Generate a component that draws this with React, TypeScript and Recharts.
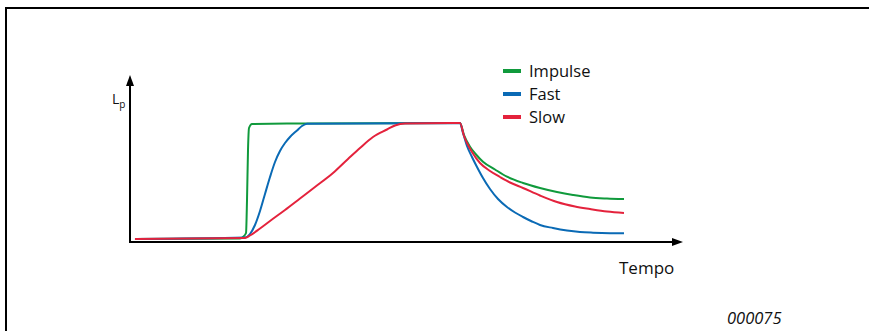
import React from 'react';
import { LineChart, Line, XAxis, YAxis, ReferenceLine, Legend } from 'recharts';

// time (0..100) vs level (0..100)
const impulseTime = [0.9, 19.89, 20.43, 20.98, 21.16, 21.34, 21.52, 22.06, 31.65, 59.67, 60.40, 61.48, 62.57, 63.83, 66.00, 68.17, 71.07, 74.14, 77.21, 80.11, 83.18, 86.26, 89.33];
const impulseLevel = [1.8, 2.10, 2.99, 5.39, 25.15, 55.09, 68.26, 70.66, 70.96, 71.26, 64.07, 57.07, 52.40, 48.08, 43.41, 39.10, 35.33, 32.34, 29.94, 28.14, 26.65, 26.05, 25.75];

const fastTime = [0.9, 20.80, 21.70, 22.60, 23.51, 24.41, 25.32, 26.22, 27.12, 28.03, 28.93, 30.20, 31.10, 32.01, 59.67, 60.22, 60.94, 61.84, 62.75, 63.83, 65.10, 66.55, 68.17, 69.62, 71.07, 72.69, 74.14, 76.49, 79.02, 81.37, 83.73, 86.80, 89.33];
const fastLevel = [1.8, 2.69, 4.79, 10.18, 18.56, 28.74, 38.92, 47.90, 54.49, 59.28, 62.87, 66.77, 69.46, 70.84, 71.26, 65.27, 57.49, 50.90, 44.91, 38.32, 31.74, 25.75, 20.96, 17.66, 14.97, 12.28, 10.18, 8.38, 6.89, 5.99, 5.57, 5.27, 5.21];

const slowTime = [0.9, 20.80, 21.70, 23.51, 25.32, 28.03, 30.74, 33.45, 36.71, 39.42, 41.59, 43.94, 46.47, 47.92, 49.73, 59.67, 60.40, 60.94, 61.84, 63.29, 65.10, 66.91, 68.72, 71.07, 74.14, 77.21, 80.47, 83.18, 86.26, 89.33];
const slowLevel = [1.8, 2.40, 3.89, 8.08, 12.57, 19.16, 26.05, 32.93, 41.32, 49.70, 56.29, 62.87, 67.37, 69.76, 70.96, 71.26, 63.47, 59.28, 53.89, 47.31, 42.51, 38.92, 35.63, 32.34, 27.84, 23.95, 21.26, 19.76, 18.26, 17.37];

const seriesNames = ['Impulse', 'Fast', 'Slow'];
const seriesColors = ['#109a3c', '#0a6ab5', '#e4223c'];
const yAxisLabel = 'L';
const yAxisSub = 'p';
const xAxisLabel = 'Tempo';
const figureCode = '000075';

const toPoints = (t: number[], v: number[]) => t.map((x, i) => ({ t: x, v: v[i] }));
const impulseData = toPoints(impulseTime, impulseLevel);
const fastData = toPoints(fastTime, fastLevel);
const slowData = toPoints(slowTime, slowLevel);

const FONT = '"Open Sans", "Noto Sans", sans-serif';

const ArrowX = (p: any) => {
  const { x1, y1, x2, y2 } = p;
  return (
    <g>
      <line x1={x1 - 1} y1={y1} x2={x2 - 8} y2={y2} stroke="#000" strokeWidth={2} />
      <polygon points={`${x2},${y2} ${x2 - 11},${y2 - 4} ${x2 - 11},${y2 + 4}`} fill="#000" />
    </g>
  );
};

const ArrowY = (p: any) => {
  const { x1, y1, x2, y2 } = p;
  const top = Math.min(y1, y2);
  const bot = Math.max(y1, y2);
  return (
    <g>
      <line x1={x1} y1={bot + 1} x2={x2} y2={top + 8} stroke="#000" strokeWidth={2} />
      <polygon points={`${x1},${top} ${x1 - 4},${top + 11} ${x1 + 4},${top + 11}`} fill="#000" />
    </g>
  );
};

const LegendContent = () => (
  <div style={{ fontFamily: FONT, fontSize: 16.5, color: '#111' }}>
    {seriesNames.map((n, i) => (
      <div key={n} style={{ display: 'flex', alignItems: 'center', height: 23 }}>
        <span style={{ display: 'inline-block', width: 18, height: 4, background: seriesColors[i], marginRight: 8 }} />
        <span>{n}</span>
      </div>
    ))}
  </div>
);

export default function App() {
  return (
    <div style={{ position: 'absolute', left: 0, top: 0, width: 869, height: 331, background: '#fff' }}>
      <div
        style={{
          position: 'absolute',
          left: 5,
          top: 6.5,
          width: 864,
          height: 325,
          borderTop: '2px solid #000',
          borderLeft: '2px solid #000',
          boxSizing: 'border-box',
        }}
      />
      <div style={{ position: 'absolute', left: 0, top: 0 }}>
        <LineChart width={869} height={331} margin={{ top: 75, right: 186, bottom: 89, left: 130 }}>
          <XAxis type="number" dataKey="t" domain={[0, 100]} hide allowDataOverflow />
          <YAxis type="number" dataKey="v" domain={[0, 100]} hide allowDataOverflow />
          <ReferenceLine segment={[{ x: 0, y: 0 }, { x: 100, y: 0 }]} shape={ArrowX} ifOverflow="visible" />
          <ReferenceLine segment={[{ x: 0, y: 0 }, { x: 0, y: 100 }]} shape={ArrowY} ifOverflow="visible" />
          <Line data={impulseData} dataKey="v" name={seriesNames[0]} type="monotone" stroke={seriesColors[0]} strokeWidth={2} dot={false} isAnimationActive={false} />
          <Line data={fastData} dataKey="v" name={seriesNames[1]} type="monotone" stroke={seriesColors[1]} strokeWidth={2} dot={false} isAnimationActive={false} />
          <Line data={slowData} dataKey="v" name={seriesNames[2]} type="monotone" stroke={seriesColors[2]} strokeWidth={2} dot={false} isAnimationActive={false} />
          <Legend
            layout="vertical"
            align="center"
            verticalAlign="middle"
            content={LegendContent}
            wrapperStyle={{ left: 503, top: 59, width: 130 }}
          />
          <text x={112} y={104} fontFamily={FONT} fontSize={14} fill="#111">
            {yAxisLabel}
            <tspan fontSize={10} dy={4}>{yAxisSub}</tspan>
          </text>
          <text x={619} y={274} fontFamily={FONT} fontSize={17} fill="#111">{xAxisLabel}</text>
          <text x={727} y={324} fontFamily={FONT} fontSize={16.5} fontStyle="italic" fill="#111">{figureCode}</text>
        </LineChart>
      </div>
    </div>
  );
}
